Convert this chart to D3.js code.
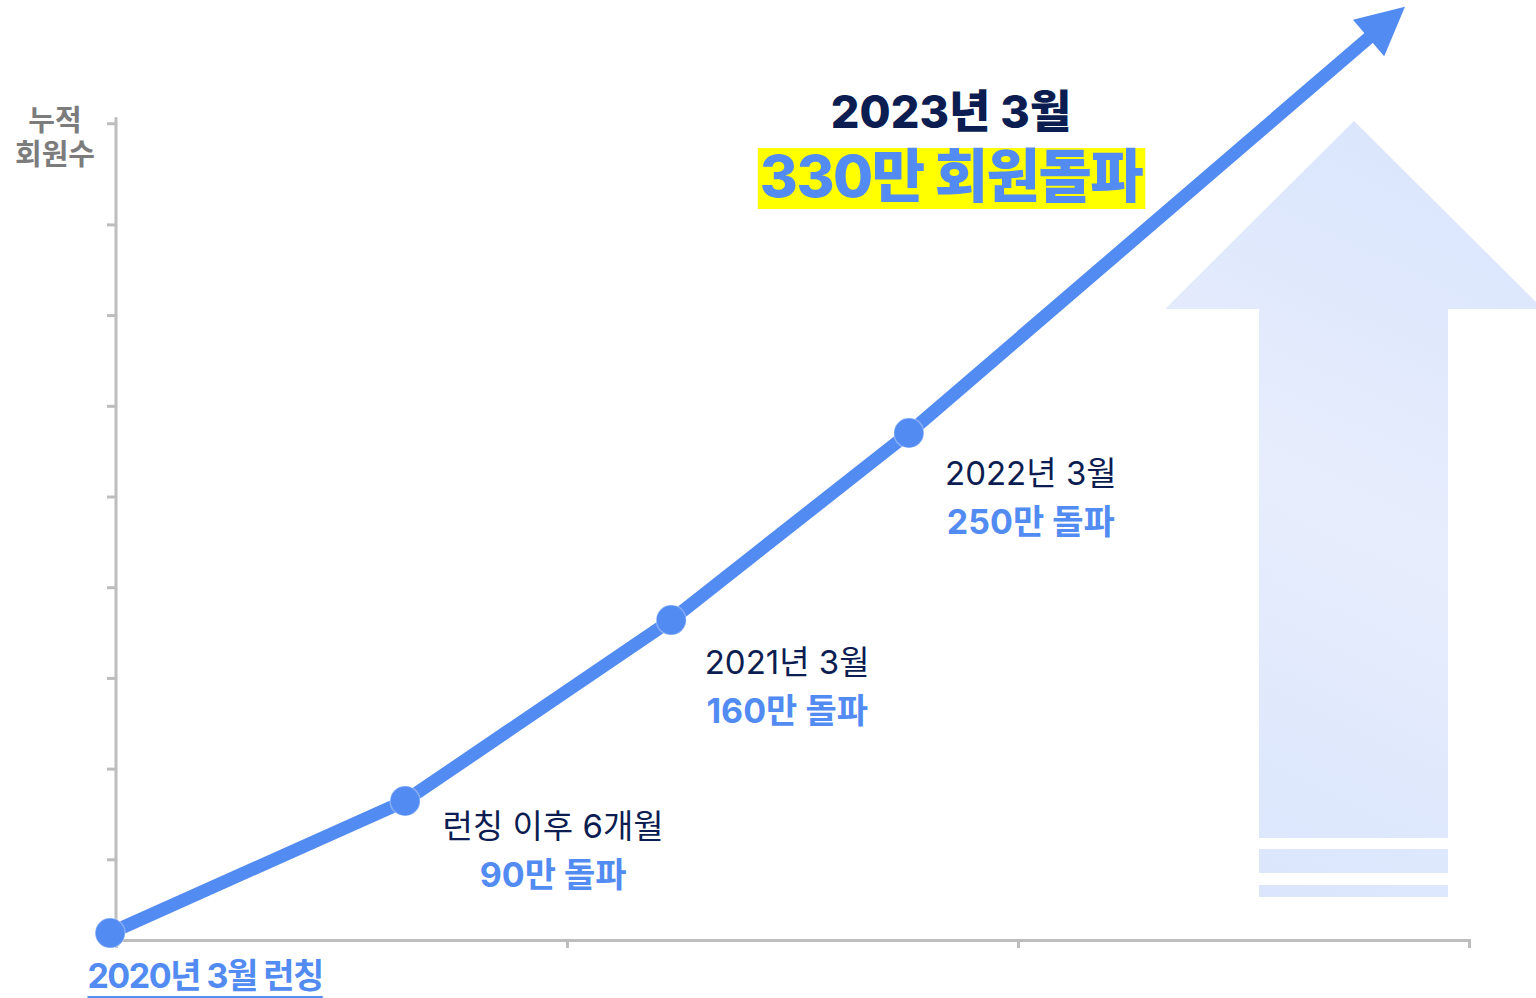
<!DOCTYPE html>
<html lang="ko">
<head>
<meta charset="utf-8">
<script src="https://cdn.jsdelivr.net/npm/d3@7"></script>
<style>
  body { margin: 0; background: #fff; }
  svg { display: block; font-family: Inter, "Noto Sans CJK KR", sans-serif; }
</style>
</head>
<body>
<div id="chart"></div>
<script>
// milestones: x in years after launch, y in axis grid units
const milestoneX = [-0.013, 0.641, 1.231, 1.758];
const milestoneY = [0.187, 1.643, 3.638, 5.70];
const milestoneDates = ["2020년 3월 런칭", "런칭 이후 6개월", "2021년 3월", "2022년 3월"];
const milestoneMembers = ["", "90만 돌파", "160만 돌파", "250만 돌파"];
const arrowTip = [2.858, 10.40];
const headlineDate = "2023년 3월";
const headlineMembers = "330만 회원돌파";
const yAxisTitle = ["누적", "회원수"];
const xTickValues = [1, 2, 3];
const yTickValues = [1, 2, 3, 4, 5, 6, 7, 8];

const width = 1536, height = 998;
const blue = "#528bf2", navy = "#0b1d51", axisGray = "#bdbdbd";

const svg = d3.select("#chart").append("svg")
  .attr("width", width)
  .attr("height", height);

const x = d3.scaleLinear().domain([0, 3]).range([116, 1469]);
const y = d3.scaleLinear().domain([0, 9]).range([950, 133.7]);
const axisBase = 0.11, axisTop = 9.18;

// background arrow (decoration)
const grad = svg.append("defs").append("linearGradient")
  .attr("id", "bgGrad")
  .attr("gradientUnits", "userSpaceOnUse")
  .attr("x1", 1540).attr("y1", 130)
  .attr("x2", 1170).attr("y2", 900);
grad.append("stop").attr("offset", 0).attr("stop-color", "#d8e4fd");
grad.append("stop").attr("offset", 0.5).attr("stop-color", "#e7edfc");
grad.append("stop").attr("offset", 1).attr("stop-color", "#d9e5fd");

const bg = svg.append("g").attr("fill", "url(#bgGrad)");
bg.append("path")
  .attr("d", "M1354,121 L1543,309 L1448,309 L1448,838 L1259,838 L1259,309 L1165,309 Z");
bg.append("rect").attr("x", 1259).attr("y", 849).attr("width", 189).attr("height", 24);
bg.append("rect").attr("x", 1259).attr("y", 885).attr("width", 189).attr("height", 12);

// axes
const xAxis = svg.append("g")
  .attr("transform", `translate(0,${y(axisBase)})`)
  .call(d3.axisBottom(x).tickValues(xTickValues).tickSize(8).tickSizeOuter(8).tickFormat(""));
const yAxis = svg.append("g")
  .attr("transform", `translate(${x(0)},0)`)
  .call(d3.axisLeft(y).tickValues(yTickValues).tickSize(9).tickFormat(""));
yAxis.select(".domain")
  .attr("d", `M-9,${y(axisTop - 0.07)}H0M0,${y(axisTop)}V${y(axisBase)}`);
[xAxis, yAxis].forEach(g => {
  g.selectAll(".domain, .tick line")
    .attr("stroke", axisGray)
    .attr("stroke-width", 3);
});

// y axis title
svg.append("text")
  .attr("x", 55)
  .attr("text-anchor", "middle")
  .style("font-size", "29px")
  .style("font-weight", 700)
  .style("fill", "#7c7c7c")
  .selectAll("tspan")
  .data(yAxisTitle)
  .enter().append("tspan")
  .attr("x", 55)
  .attr("y", (d, i) => 131 + i * 34)
  .text(d => d);

// growth line + arrow
const pts = milestoneX.map((v, i) => [x(v), y(milestoneY[i])]);
const tip = [x(arrowTip[0]), y(arrowTip[1])];
const last = pts[pts.length - 1];
const len = Math.hypot(tip[0] - last[0], tip[1] - last[1]);
const u = [(tip[0] - last[0]) / len, (tip[1] - last[1]) / len];
const nrm = [-u[1], u[0]];
const headLen = 48, headHalf = 24;
const lineEnd = [tip[0] - u[0] * (headLen - 6), tip[1] - u[1] * (headLen - 6)];
const base = [tip[0] - u[0] * headLen, tip[1] - u[1] * headLen];

svg.append("path")
  .datum(pts.concat([lineEnd]))
  .attr("d", d3.line())
  .attr("fill", "none")
  .attr("stroke", blue)
  .attr("stroke-width", 13)
  .attr("stroke-linejoin", "round");

svg.append("path")
  .attr("d", d3.line()([
    tip,
    [base[0] + nrm[0] * headHalf, base[1] + nrm[1] * headHalf],
    [base[0] - nrm[0] * headHalf, base[1] - nrm[1] * headHalf]
  ]) + "Z")
  .attr("fill", blue);

svg.selectAll(".milestone")
  .data(pts)
  .enter().append("circle")
  .attr("class", "milestone")
  .attr("cx", d => d[0])
  .attr("cy", d => d[1])
  .attr("r", 15)
  .attr("fill", blue)
  .attr("stroke", "rgba(255,255,255,0.3)")
  .attr("stroke-width", 1.5);

// milestone labels (offsets from each point)
const labelDx = [95, 148, 116, 122];
const labelDy = [55, 37, 54, 52];

milestoneDates.forEach((d, i) => {
  const cx = pts[i][0] + labelDx[i];
  const by = pts[i][1] + labelDy[i];
  if (i === 0) {
    const t = svg.append("text")
      .attr("x", cx)
      .attr("y", by)
      .attr("text-anchor", "middle")
      .style("font-size", "34px")
      .style("font-weight", 700)
      .style("letter-spacing", "-1.5px")
      .style("fill", blue)
      .text(d);
    const bb = t.node().getBBox();
    svg.append("rect")
      .attr("x", bb.x)
      .attr("y", by + 8)
      .attr("width", bb.width)
      .attr("height", 2)
      .attr("fill", blue);
    return;
  }
  svg.append("text")
    .attr("x", cx)
    .attr("y", by)
    .attr("text-anchor", "middle")
    .style("font-size", "33px")
    .style("font-weight", 400)
    .style("fill", navy)
    .text(d);
  svg.append("text")
    .attr("x", cx)
    .attr("y", by + 49)
    .attr("text-anchor", "middle")
    .style("font-size", "34px")
    .style("font-weight", 700)
    .style("fill", blue)
    .text(milestoneMembers[i]);
});

// headline
svg.append("text")
  .attr("x", 951)
  .attr("y", 128)
  .attr("text-anchor", "middle")
  .style("font-size", "45px")
  .style("font-weight", 800)
  .style("fill", navy)
  .text(headlineDate);

const hlBox = svg.append("rect").attr("fill", "#ffff00");
const hl = svg.append("text")
  .attr("x", 951)
  .attr("y", 197)
  .attr("text-anchor", "middle")
  .style("font-size", "58px")
  .style("font-weight", 800)
  .style("letter-spacing", "-1.5px")
  .style("fill", blue)
  .text(headlineMembers);
const hb = hl.node().getBBox();
hlBox
  .attr("x", hb.x - 2)
  .attr("y", 148)
  .attr("width", hb.width + 4)
  .attr("height", 61);
</script>
</body>
</html>
